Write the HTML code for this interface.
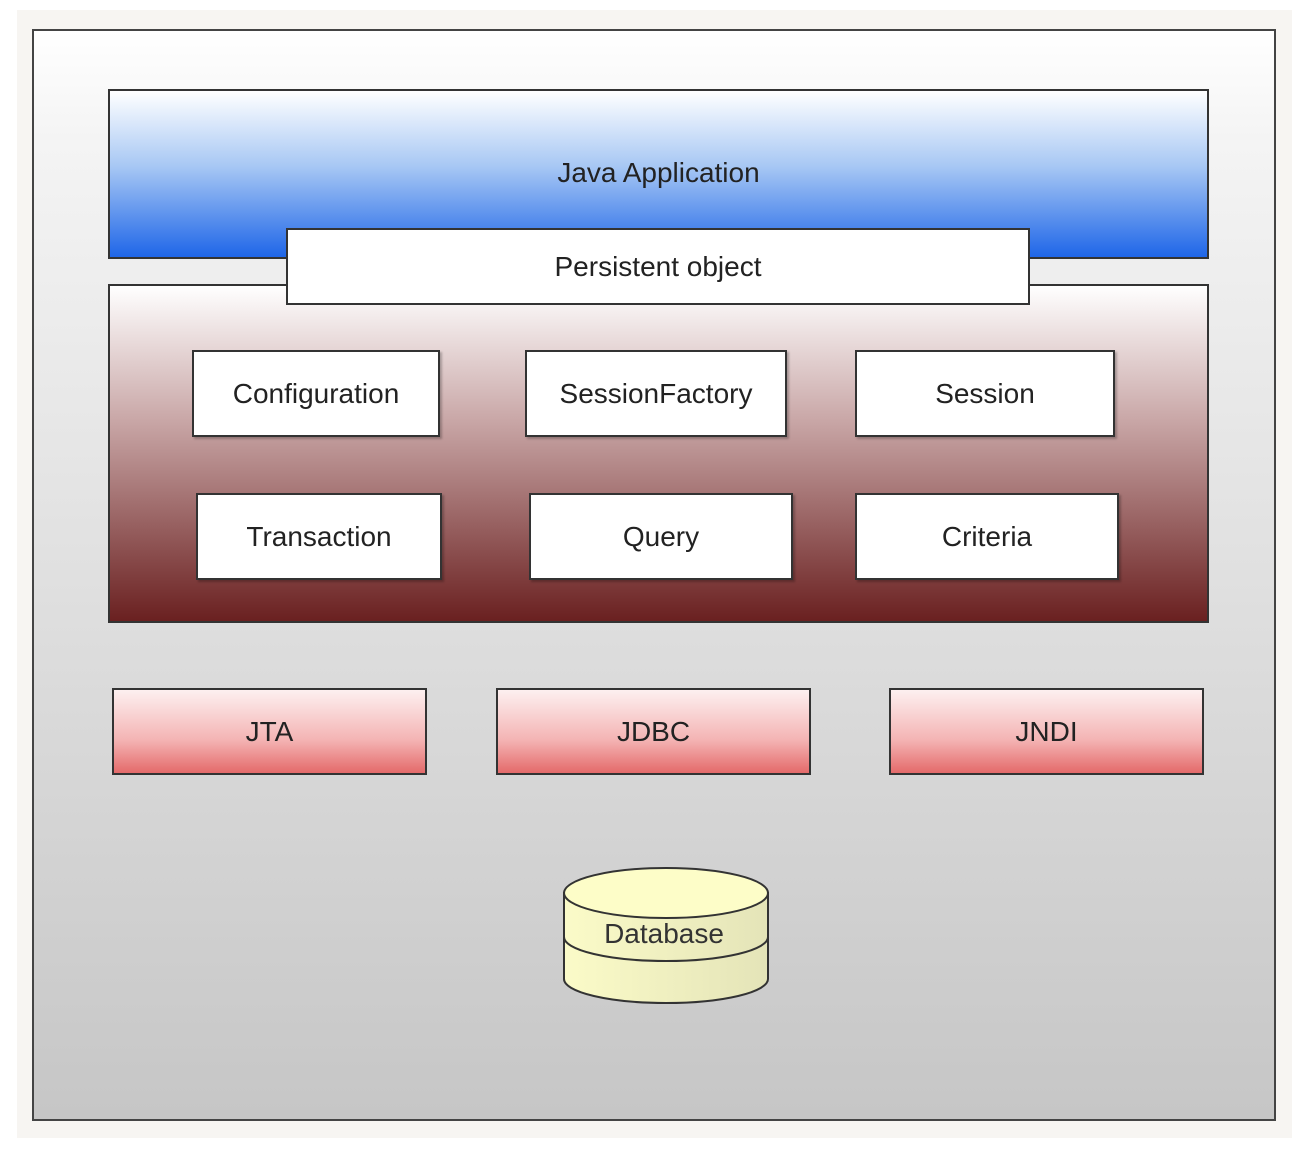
<!DOCTYPE html>
<html><head><style>
body{margin:0;width:1312px;height:1152px;background:#fff;position:relative;font-family:"Liberation Sans",sans-serif;overflow:hidden}
.a{position:absolute;box-sizing:border-box}
.bx{border:2px solid #333;display:flex;align-items:center;justify-content:center;font-size:28px;color:#222}
.w{background:#fff;box-shadow:2px 2px 2px rgba(0,0,0,.25)}
.p{background:linear-gradient(#fdf0f0,#f4b4b4 60%,#e46a6a)}
</style></head><body>
<div class="a" style="left:17px;top:10px;width:1275px;height:1128px;background:#f7f5f2"></div>
<div class="a" style="left:32px;top:29px;width:1244px;height:1092px;border:2px solid #444;background:linear-gradient(#fff 0,#f4f4f4 10%,#e0e0e0 50%,#c6c6c6 100%)"></div>
<div class="a bx" style="left:108px;top:89px;width:1101px;height:170px;background:linear-gradient(#fff,#a8c8f4 45%,#1f66e8);padding-bottom:quinn;align-items:flex-start;padding-top:66px">Java Application</div>
<div class="a bx" style="left:108px;top:284px;width:1101px;height:339px;background:linear-gradient(#fff,#c9a7a7 40%,#6a2020)"></div>
<div class="a bx w" style="left:286px;top:228px;width:744px;height:77px;box-shadow:none">Persistent object</div>
<div class="a bx w" style="left:192px;top:350px;width:248px;height:87px">Configuration</div>
<div class="a bx w" style="left:525px;top:350px;width:262px;height:87px">SessionFactory</div>
<div class="a bx w" style="left:855px;top:350px;width:260px;height:87px">Session</div>
<div class="a bx w" style="left:196px;top:493px;width:246px;height:87px">Transaction</div>
<div class="a bx w" style="left:529px;top:493px;width:264px;height:87px">Query</div>
<div class="a bx w" style="left:855px;top:493px;width:264px;height:87px">Criteria</div>
<div class="a bx p" style="left:112px;top:688px;width:315px;height:87px">JTA</div>
<div class="a bx p" style="left:496px;top:688px;width:315px;height:87px">JDBC</div>
<div class="a bx p" style="left:889px;top:688px;width:315px;height:87px">JNDI</div>
<svg class="a" style="left:0;top:0" width="1312" height="1152">
<defs><linearGradient id="y" x1="0" x2="1"><stop offset="0" stop-color="#fbfbc8"/><stop offset="1" stop-color="#e4e4b8"/></linearGradient></defs>
<path d="M564,893 L564,979 A102,24 0 0 0 768,979 L768,893 Z" fill="url(#y)" stroke="#333" stroke-width="2"/>
<path d="M564,937 A102,24 0 0 0 768,937" fill="none" stroke="#333" stroke-width="2"/>
<ellipse cx="666" cy="893" rx="102" ry="25" fill="#fdfdc8" stroke="#333" stroke-width="2"/>
<text x="664" y="943" font-size="28" text-anchor="middle" fill="#333" font-family="Liberation Sans">Database</text>
</svg>
</body></html>
